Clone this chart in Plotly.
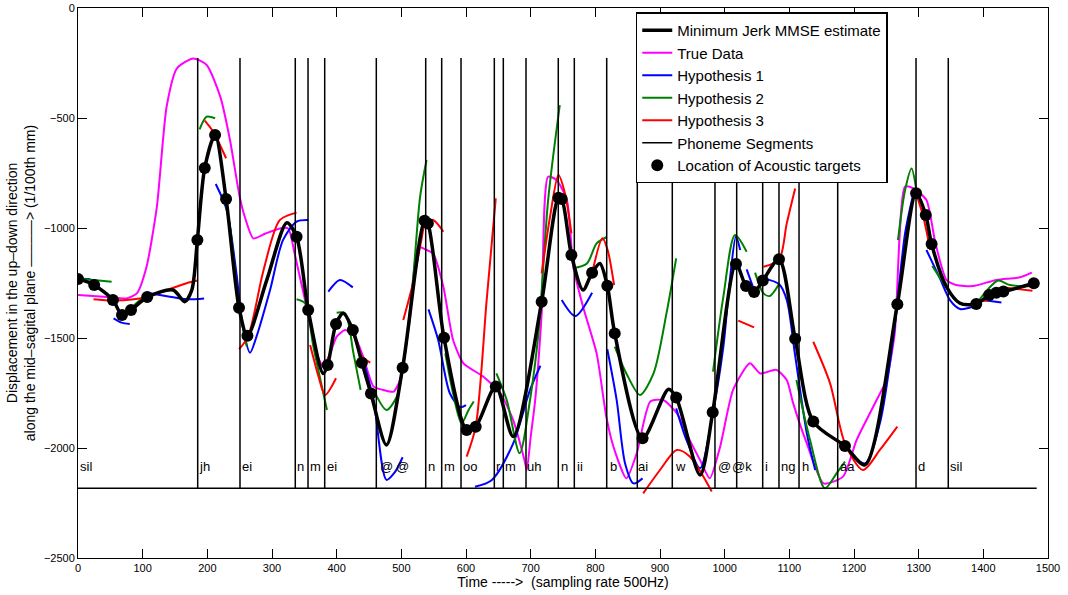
import plotly.graph_objects as go

# ---------------- data ----------------
mmse_t = [0, 25, 54, 68, 82, 107, 147, 165, 176, 184.6, 196, 212, 229, 249, 262, 292, 323, 338, 356,
          379, 386, 399, 410, 425, 439, 453, 477, 502, 536, 541, 566, 601, 615, 646, 673, 717, 743,
          748, 763, 781, 795, 807, 818.5, 830, 873, 913, 925, 962, 981.5, 1017.5, 1033, 1045.5,
          1059, 1084, 1109, 1137, 1186, 1217, 1267, 1296, 1311, 1320, 1343, 1364, 1389, 1409,
          1420, 1431, 1478]
mmse_v = [-1232, -1259, -1327, -1395, -1373, -1314, -1282, -1335, -1282, -1055, -727, -577, -868,
          -1362, -1490, -1236, -976, -1040, -1373, -1661, -1623, -1436, -1388, -1464, -1612, -1752,
          -1986, -1635, -967, -979, -1499, -1918, -1903, -1721, -1948, -1335, -863, -868, -1123,
          -1282, -1203, -1161, -1262, -1479, -1956, -1733, -1770, -2123, -1838, -1164, -1264,
          -1291, -1239, -1142, -1503, -1880, -1991, -2077, -1347, -842, -941, -1073, -1267, -1342,
          -1345, -1305, -1294, -1289, -1251]

target_t = [0, 25, 54, 68, 82, 107, 184.6, 196, 212, 229, 249, 262, 338, 356, 386, 399, 425, 439,
            453, 502, 536, 541, 566, 601, 615, 646, 717, 743, 748, 763, 795, 818.5, 830, 873, 925,
            981.5, 1017.5, 1033, 1045.5, 1059, 1084, 1109, 1137, 1186, 1267, 1296, 1311, 1320,
            1389, 1409, 1420, 1431, 1478]
target_v = [-1232, -1259, -1327, -1395, -1373, -1314, -1055, -727, -577, -868, -1362, -1490, -1040,
            -1373, -1623, -1436, -1464, -1612, -1752, -1635, -967, -979, -1499, -1918, -1903,
            -1721, -1335, -863, -868, -1123, -1203, -1262, -1479, -1956, -1770, -1838, -1164,
            -1264, -1291, -1239, -1142, -1503, -1880, -1991, -1347, -842, -941, -1073, -1345,
            -1305, -1294, -1289, -1251]

true_t = [0, 40, 75, 91, 106, 122, 137, 153, 178, 199, 220, 235, 250, 258, 271, 290, 312, 325, 336,
          359, 369, 379, 390, 400, 413, 428, 441, 457, 472, 488, 498, 513, 526, 539, 549, 565, 580,
          596, 627, 653, 673, 690, 694, 700, 707, 717, 727, 740, 756, 766, 781, 802, 817, 828, 848,
          864, 885, 905, 926, 946, 962, 977, 993, 1013, 1039, 1055, 1080, 1096, 1106, 1127, 1153,
          1183, 1204, 1235, 1250, 1263, 1279, 1292, 1312, 1326, 1343, 1358, 1384, 1420, 1457, 1475]
true_v = [-1305, -1312, -1320, -1297, -1176, -903, -449, -274, -229, -259, -403, -600, -858, -950,
          -1047, -1025, -1002, -1002, -1130, -1433, -1570, -1630, -1570, -1494, -1464, -1494, -1585,
          -1721, -1736, -1744, -1691, -1418, -1085, -1100, -1115, -1267, -1509, -1615, -1676, -1751,
          -1873, -2050, -2100, -1950, -1782, -1388, -767, -782, -873, -1176, -1358, -1570, -1858,
          -1994, -2138, -2024, -1789, -1782, -1842, -1964, -2055, -2138, -1994, -1736, -1615, -1661,
          -1645, -1691, -1797, -1979, -2161, -2130, -1964, -1782, -1691, -1479, -812, -820, -873,
          -1070, -1236, -1259, -1264, -1236, -1224, -1203]

hyp1_t = [[0, 19], [55, 67, 80], [111, 142, 168, 195],
          [213, 230, 245, 255, 266, 276, 297, 317, 338, 356], [387, 405, 425],
          [441, 457, 477, 490, 502], [542, 557, 575, 591, 600], [614, 640, 673, 699, 715],
          [748, 769, 795], [818.5, 833, 846, 859, 873],
          [925, 941, 962, 981.5, 998, 1008, 1017.5, 1024], [1034, 1045.5],
          [1060, 1084, 1096, 1109, 1127, 1140], [1186, 1217, 1240, 1261, 1279, 1292],
          [1312, 1333, 1349, 1364, 1384], [1399, 1428]]
hyp1_v = [[-1229, -1233], [-1411, -1430, -1436], [-1297, -1312, -1324, -1320],
          [-800, -918, -1206, -1450, -1567, -1494, -1282, -1055, -971, -964], [-1289, -1236, -1270],
          [-1600, -1782, -2145, -2110, -2042], [-1370, -1509, -1751, -1815, -1805],
          [-2176, -2145, -1979, -1736, -1626], [-1327, -1400, -1294],
          [-1551, -1782, -2070, -2161, -2138],
          [-1820, -1964, -2092, -1842, -1539, -1236, -1039, -1100], [-1188, -1282],
          [-1229, -1255, -1327, -1580, -1933, -2100], [-1994, -2070, -1888, -1494, -1024, -842],
          [-1100, -1230, -1330, -1368, -1358], [-1327, -1339]]

hyp2_t = [[0, 52], [80, 96, 107], [188, 199, 212], [225, 235, 249, 261], [338, 351, 364, 385],
          [400, 413, 426, 437], [457, 477, 493, 503, 518, 529, 539], [568, 580, 593, 604, 612],
          [647, 663, 683, 699, 712, 727, 745], [765, 787, 802, 817], [830, 848, 869, 890, 910, 925],
          [982, 998, 1016, 1034], [1047, 1060, 1070, 1084], [1111, 1132, 1155, 1173, 1186],
          [1268, 1279, 1289, 1296], [1321, 1343, 1364, 1389], [1389, 1407, 1423, 1441, 1472, 1480]]
hyp2_v = [[-1229, -1244], [-1370, -1327, -1309], [-552, -494, -501], [-843, -994, -1358, -1539],
          [-1324, -1342, -1539, -1827], [-1385, -1388, -1570, -1736],
          [-1736, -1827, -1767, -1630, -1236, -858, -691], [-1570, -1751, -1888, -1827, -1789],
          [-1661, -1782, -2024, -1782, -1479, -873, -441], [-1183, -1161, -1070, -1042],
          [-1539, -1661, -1759, -1661, -1388, -1138], [-1653, -1312, -1032, -1108],
          [-1203, -1297, -1309, -1255], [-1691, -1964, -2183, -2115, -2062],
          [-1055, -827, -729, -820], [-1173, -1270, -1345, -1345],
          [-1345, -1279, -1239, -1259, -1264, -1255]]

hyp3_t = [[24, 55, 106, 137, 168, 185], [196, 209, 229], [249, 263, 287, 312, 338],
          [359, 372, 382, 399], [425, 439, 452], [503, 518, 531, 537, 549, 565],
          [601, 615, 632, 646], [717, 730, 743, 753, 763], [795, 811, 819, 829],
          [874, 900, 926, 946, 980], [1021, 1045.5], [1060, 1084, 1096, 1109],
          [1137, 1163, 1186, 1214, 1240, 1267], [1296, 1307, 1318], [1389, 1410],
          [1431, 1457, 1476]]
hyp3_v = [[-1324, -1330, -1315, -1282, -1251, -1239], [-512, -562, -683],
          [-1551, -1494, -1191, -964, -930], [-1532, -1676, -1759, -1683], [-1471, -1585, -1612],
          [-1418, -1251, -1055, -979, -964, -1017], [-2039, -1903, -1327, -865],
          [-1206, -948, -759, -842, -1024], [-1206, -1047, -1100, -1259],
          [-2206, -2100, -2009, -2039, -2198], [-1421, -1452], [-1176, -1145, -979, -820],
          [-1517, -1706, -1979, -2100, -2009, -1903], [-842, -948, -1100], [-1335, -1327],
          [-1270, -1279, -1285]]

phoneme_bounds = [185.1, 250.5, 336, 355.7, 381.5, 461.3, 537.7, 562.4, 592.3, 643.8, 657.7,
                  692.8, 742.7, 767.5, 817.6, 864.9, 919, 985, 1018.6, 1058.8, 1084, 1115,
                  1174.8, 1295.9, 1345.8]
segment_top = -227
segment_bottom = -2183
segment_end = 1482.5

phoneme_labels = ["sil", "jh", "ei", "n", "m", "ei", "@", "@", "n", "m", "oo", "r", "m", "uh",
                  "n", "ii", "b", "ai", "w", "@", "@k", "i", "ng", "h", "aa", "d", "sil"]
label_times = [0, 184, 250, 336, 355, 381.5, 464, 489, 537.5, 563, 593, 643, 657.5, 691,
               743.5, 768, 819, 863.5, 919.5, 986, 1009, 1059.5, 1084.5, 1117, 1175.5,
               1296.5, 1345.5]
label_level = -2085


def join(ts, vs):
    xs, ys = [], []
    for t, v in zip(ts, vs):
        xs += list(t) + [None]
        ys += list(v) + [None]
    return xs, ys


FONT = "Liberation Sans, Arial, Helvetica, sans-serif"
fig = go.Figure()

fig.add_trace(go.Scatter(x=true_t, y=true_v, mode="lines", name="True Data",
                         line=dict(color="#ff00ff", width=2, shape="spline", smoothing=0.6),
                         legendrank=2))
for ts, vs, col, nm, rk in [(hyp1_t, hyp1_v, "#0000ff", "Hypothesis 1", 3),
                            (hyp2_t, hyp2_v, "#008000", "Hypothesis 2", 4),
                            (hyp3_t, hyp3_v, "#ff0000", "Hypothesis 3", 5)]:
    xs, ys = join(ts, vs)
    fig.add_trace(go.Scatter(x=xs, y=ys, mode="lines", name=nm, connectgaps=False,
                             line=dict(color=col, width=2, shape="spline", smoothing=0.8),
                             legendrank=rk))

px_, py_ = [], []
for b in phoneme_bounds:
    px_ += [b, b, None]
    py_ += [segment_top, segment_bottom, None]
px_ += [0, segment_end]
py_ += [segment_bottom, segment_bottom]
fig.add_trace(go.Scatter(x=px_, y=py_, mode="lines", name="Phoneme Segments",
                         line=dict(color="black", width=1.5), legendrank=6))

fig.add_trace(go.Scatter(x=mmse_t, y=mmse_v, mode="lines", name="Minimum Jerk MMSE estimate",
                         line=dict(color="black", width=3.5, shape="spline", smoothing=0.8),
                         legendrank=1))
fig.add_trace(go.Scatter(x=target_t, y=target_v, mode="markers",
                         name="Location of Acoustic targets",
                         marker=dict(color="black", size=12), legendrank=7))

for lab, t in zip(phoneme_labels, label_times):
    fig.add_annotation(x=t, y=label_level, text=lab, showarrow=False, xanchor="left",
                       yanchor="middle", font=dict(family=FONT, size=13, color="black"))

axis_common = dict(showgrid=False, zeroline=False, showline=True, linecolor="black",
                   linewidth=1, mirror="ticks", ticks="inside", ticklen=9, tickcolor="black",
                   automargin=False,
                   tickfont=dict(family=FONT, size=11, color="black"))
fig.update_xaxes(range=[0, 1500], dtick=100, tick0=0,
                 title=dict(text="Time ----->  (sampling rate 500Hz)",
                            font=dict(family=FONT, size=14, color="black"), standoff=0),
                 **axis_common)
fig.update_yaxes(range=[-2500, 0], dtick=500, tick0=0,
                 title=dict(text="Displacement in the up–down direction<br>"
                                 "along the mid–sagital plane ––––––> (1/100th mm)",
                            font=dict(family=FONT, size=14, color="black"), standoff=4),
                 **axis_common)

fig.update_layout(
    width=1068, height=595, autosize=False,
    margin=dict(l=78, r=20, t=8, b=37, pad=0),
    paper_bgcolor="white", plot_bgcolor="white",
    font=dict(family=FONT, color="black"),
    legend=dict(x=0.575, y=0.992, xanchor="left", yanchor="top", bgcolor="white",
                bordercolor="black", borderwidth=1.5,
                font=dict(family=FONT, size=15, color="black"), tracegroupgap=0),
)

fig.write_html("out.html")
